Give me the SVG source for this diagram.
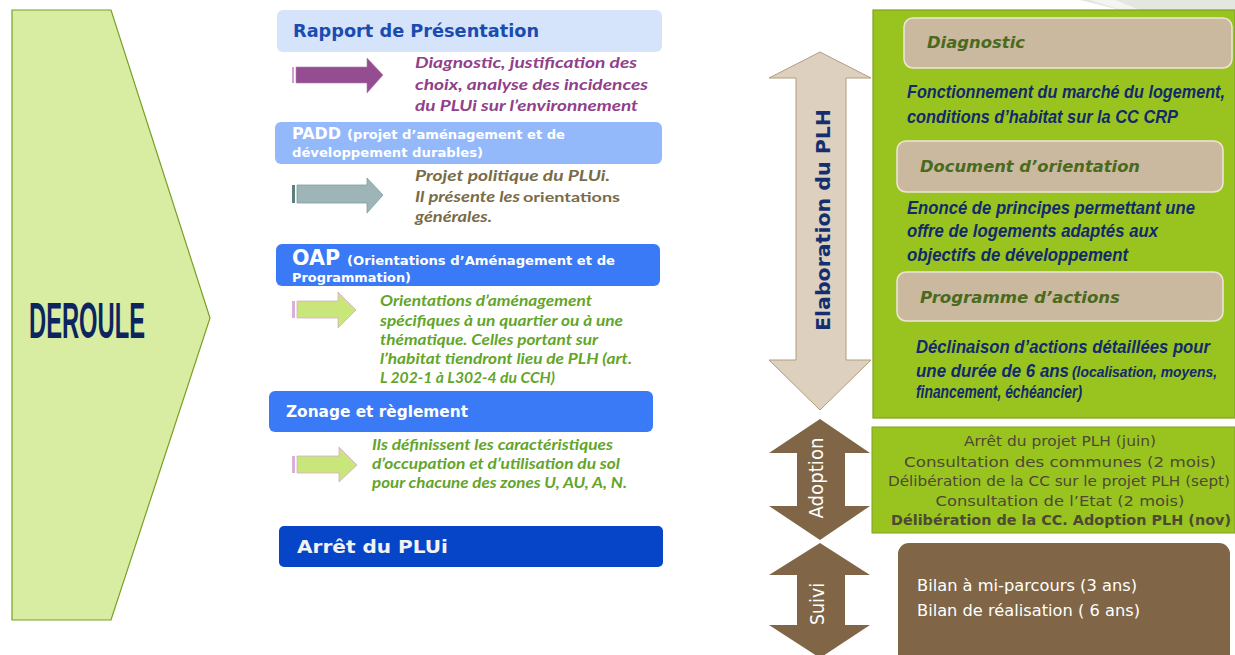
<svg xmlns="http://www.w3.org/2000/svg" width="1235" height="655" viewBox="0 0 1235 655">
<style>
.box{font-family:"DejaVu Sans","Liberation Sans",sans-serif;font-weight:bold;fill:#fff}
.desc{font-family:Lato,"Liberation Sans",sans-serif;font-weight:bold;font-style:italic}
.pur{fill:#914089;font-size:16px}
.oli{fill:#7a6b47;font-size:16px}
.grn{fill:#63a52a;font-size:15px}
.hdr{font-family:"DejaVu Sans","Liberation Sans",sans-serif;font-weight:bold;font-style:italic;fill:#4a6a1e;font-size:16px}
.nav{font-family:"Liberation Sans",Arial,sans-serif;font-weight:bold;font-style:italic;fill:#122a6b;font-size:18px}
.adp{font-family:"DejaVu Sans","Liberation Sans",sans-serif;fill:#4e4934;font-size:14px;text-anchor:middle}
.wt{font-family:"DejaVu Sans","Liberation Sans",sans-serif;fill:#fff}
.tan{fill:#cab89f;stroke:#eee6da;stroke-width:1.5}
</style>
<rect width="1235" height="655" fill="#fff"/>
<polygon points="1080,0 1235,0 1235,10 1120,10" fill="#e4e6e0"/>
<polygon points="1090,0 1115,0 1140,10 1122,10" fill="#f4f5f2"/>

<g id="deroule">
<polygon points="12,10 111,10 210,318 111,620 12,620" fill="#d8eda2" stroke="#78a026" stroke-width="1.2"/>
<text x="29" y="338" font-family="'Liberation Sans Narrow','Liberation Sans',sans-serif" font-weight="bold" font-size="50" fill="#0c2460" textLength="116" lengthAdjust="spacingAndGlyphs">DEROULE</text>
</g>

<g id="rapport">
<rect x="277" y="10" width="385" height="42" rx="6" fill="#d5e3fb"/>
<text class="box" x="293" y="37" font-size="18" style="fill:#1a4cb0" textLength="246" lengthAdjust="spacingAndGlyphs">Rapport de Présentation</text>
</g>
<g id="rapport-desc">
<rect x="292" y="67" width="2" height="16" fill="#d4a0cf"/>
<polygon points="296,67 367,67 367,58 383,75 367,93 367,83 296,83" fill="#944d90" stroke="#b27aad" stroke-width="0.6"/>
<text class="desc pur" x="415" y="68" textLength="222" lengthAdjust="spacingAndGlyphs">Diagnostic, justification des</text>
<text class="desc pur" x="415" y="90" textLength="233" lengthAdjust="spacingAndGlyphs">choix, analyse des incidences</text>
<text class="desc pur" x="415" y="111" textLength="223" lengthAdjust="spacingAndGlyphs">du PLUi sur l’environnement</text>
</g>

<g id="padd">
<rect x="275" y="122" width="387" height="42" rx="6" fill="#94b9fb"/>
<text class="box" x="292" y="139" font-size="16"><tspan textLength="49" lengthAdjust="spacingAndGlyphs">PADD</tspan><tspan x="347" font-size="12.5" textLength="218" lengthAdjust="spacingAndGlyphs">(projet d’aménagement et de</tspan></text>
<text class="box" x="292" y="157" font-size="12.5" textLength="191" lengthAdjust="spacingAndGlyphs">développement durables)</text>
</g>
<g id="padd-desc">
<rect x="292" y="185" width="3" height="18" fill="#5d7f80"/>
<polygon points="297,185 367,185 367,178 383,195 367,213 367,203 297,203" fill="#9db5b6" stroke="#7f9e9f" stroke-width="0.8"/>
<text class="desc oli" x="415" y="181" textLength="195" lengthAdjust="spacingAndGlyphs">Projet politique  du PLUi.</text>
<text class="desc oli" x="415" y="202"><tspan textLength="105" lengthAdjust="spacingAndGlyphs">Il présente les</tspan><tspan x="523" font-style="normal" font-size="14" textLength="97" lengthAdjust="spacingAndGlyphs">orientations</tspan></text>
<text class="desc oli" x="415" y="222" textLength="77" lengthAdjust="spacingAndGlyphs">générales.</text>
</g>

<g id="oap">
<rect x="276" y="244" width="384" height="42" rx="6" fill="#3a7af6"/>
<text class="box" x="292" y="265" font-size="21"><tspan textLength="48" lengthAdjust="spacingAndGlyphs">OAP</tspan><tspan x="347" font-size="13" textLength="268" lengthAdjust="spacingAndGlyphs">(Orientations d’Aménagement et de</tspan></text>
<text class="box" x="292" y="282" font-size="13" textLength="119" lengthAdjust="spacingAndGlyphs">Programmation)</text>
</g>
<g id="oap-desc">
<rect x="292" y="301" width="3" height="17" fill="#d9b0d6"/>
<polygon points="297,301 338,301 338,292 356,310 338,328 338,318 297,318" fill="#c8e67a" stroke="#d8a8d2" stroke-width="0.8"/>
<text class="desc grn" x="380" y="306" textLength="212" lengthAdjust="spacingAndGlyphs">Orientations d’aménagement</text>
<text class="desc grn" x="380" y="326" textLength="243" lengthAdjust="spacingAndGlyphs">spécifiques à un quartier  ou à une</text>
<text class="desc grn" x="380" y="345" textLength="218" lengthAdjust="spacingAndGlyphs">thématique. Celles portant sur</text>
<text class="desc grn" x="380" y="364" textLength="252" lengthAdjust="spacingAndGlyphs">l’habitat tiendront lieu  de PLH (art.</text>
<text class="desc grn" x="380" y="383" textLength="175" lengthAdjust="spacingAndGlyphs">L 202-1 à L302-4 du CCH)</text>
</g>

<g id="zonage">
<rect x="269" y="391" width="384" height="41" rx="6" fill="#3a7af6"/>
<text class="box" x="286" y="417" font-size="16" textLength="182" lengthAdjust="spacingAndGlyphs">Zonage et règlement</text>
</g>
<g id="zonage-desc">
<rect x="292" y="456" width="3" height="17" fill="#d9b0d6"/>
<polygon points="297,456 339,456 339,447 357,465 339,482 339,473 297,473" fill="#c8e67a" stroke="#d8a8d2" stroke-width="0.8"/>
<text class="desc grn" x="372" y="450" textLength="241" lengthAdjust="spacingAndGlyphs">Ils définissent les caractéristiques</text>
<text class="desc grn" x="372" y="469" textLength="248" lengthAdjust="spacingAndGlyphs">d’occupation et d’utilisation du sol</text>
<text class="desc grn" x="372" y="488" textLength="255" lengthAdjust="spacingAndGlyphs">pour chacune des zones U, AU, A, N.</text>
</g>

<g id="arret">
<rect x="279" y="526" width="384" height="41" rx="5" fill="#0645c8"/>
<text class="box" x="297" y="553" font-size="18" style="fill:#f2f2f2" textLength="151" lengthAdjust="spacingAndGlyphs">Arrêt du PLUi</text>
</g>

<g id="elaboration">
<polygon points="820,52 871,78 846,78 846,360 871,360 820,410 769,360 796,360 796,78 769,78" fill="#ddd0bf" stroke="#b39c7c" stroke-width="1"/>
<text transform="translate(830,220) rotate(-90)" text-anchor="middle" font-family="'DejaVu Sans','Liberation Sans',sans-serif" font-weight="bold" font-size="19" fill="#142e6e" textLength="222" lengthAdjust="spacingAndGlyphs">Elaboration du PLH</text>
</g>

<g id="plh-box">
<rect x="873" y="10" width="362" height="408" fill="#99c420" stroke="#7ea21c" stroke-width="1.2"/>
<rect class="tan" x="904" y="18" width="328" height="50" rx="9"/>
<text class="hdr" x="927" y="48" textLength="98" lengthAdjust="spacingAndGlyphs">Diagnostic</text>
<text class="nav" x="907" y="98" textLength="318" lengthAdjust="spacingAndGlyphs">Fonctionnement du marché du logement,</text>
<text class="nav" x="907" y="123" textLength="271" lengthAdjust="spacingAndGlyphs">conditions d’habitat sur la CC CRP</text>
<rect class="tan" x="897" y="141" width="326" height="51" rx="9"/>
<text class="hdr" x="920" y="172" textLength="220" lengthAdjust="spacingAndGlyphs">Document  d’orientation</text>
<text class="nav" x="907" y="214" textLength="288" lengthAdjust="spacingAndGlyphs">Enoncé de principes permettant une</text>
<text class="nav" x="907" y="237" textLength="251" lengthAdjust="spacingAndGlyphs">offre de logements adaptés aux</text>
<text class="nav" x="907" y="261" textLength="221" lengthAdjust="spacingAndGlyphs">objectifs de développement</text>
<rect class="tan" x="897" y="272" width="326" height="49" rx="9"/>
<text class="hdr" x="920" y="303" textLength="200" lengthAdjust="spacingAndGlyphs">Programme  d’actions</text>
<text class="nav" x="916" y="353" textLength="294" lengthAdjust="spacingAndGlyphs">Déclinaison d’actions détaillées pour</text>
<text class="nav" x="916" y="377"><tspan textLength="153" lengthAdjust="spacingAndGlyphs">une durée de 6 ans</tspan><tspan x="1072" font-size="14" textLength="145" lengthAdjust="spacingAndGlyphs">(localisation, moyens,</tspan></text>
<text class="nav" x="916" y="398" font-size="14" textLength="166" lengthAdjust="spacingAndGlyphs">financement, échéancier)</text>
</g>

<g id="adoption">
<polygon points="820,419 870,453 845,453 845,506 870,506 820,540 769,506 797,506 797,453 769,453" fill="#806646"/>
<text class="wt" transform="translate(823,478) rotate(-90)" text-anchor="middle" font-size="20" textLength="81" lengthAdjust="spacingAndGlyphs">Adoption</text>
</g>
<g id="adoption-box">
<rect x="872" y="427" width="363" height="106" fill="#99c420" stroke="#7ea21c" stroke-width="1"/>
<text class="adp" x="1060" y="446" textLength="192" lengthAdjust="spacingAndGlyphs">Arrêt du projet PLH (juin)</text>
<text class="adp" x="1060" y="467" font-size="15.5" textLength="312" lengthAdjust="spacingAndGlyphs">Consultation  des communes (2 mois)</text>
<text class="adp" x="1059" y="486" textLength="342" lengthAdjust="spacingAndGlyphs">Délibération de la CC sur le projet PLH (sept)</text>
<text class="adp" x="1060" y="506" font-size="15" textLength="249" lengthAdjust="spacingAndGlyphs">Consultation de l’Etat (2 mois)</text>
<text class="adp" x="1061" y="525" font-weight="bold" textLength="340" lengthAdjust="spacingAndGlyphs">Délibération de la CC. Adoption PLH (nov)</text>
</g>

<g id="suivi">
<polygon points="820,543 870,575 845,575 845,625 870,625 820,658 769,625 797,625 797,575 769,575" fill="#806646"/>
<text class="wt" transform="translate(824,604) rotate(-90)" text-anchor="middle" font-size="20" textLength="42" lengthAdjust="spacingAndGlyphs">Suivi</text>
</g>
<g id="suivi-box">
<rect x="898" y="543" width="332" height="125" rx="11" fill="#806646"/>
<text class="wt" x="917" y="591" font-size="15" textLength="220" lengthAdjust="spacingAndGlyphs">Bilan à mi-parcours (3 ans)</text>
<text class="wt" x="917" y="616" font-size="15" textLength="223" lengthAdjust="spacingAndGlyphs">Bilan de réalisation ( 6 ans)</text>
</g>
<g id="connectors"/>
</svg>
